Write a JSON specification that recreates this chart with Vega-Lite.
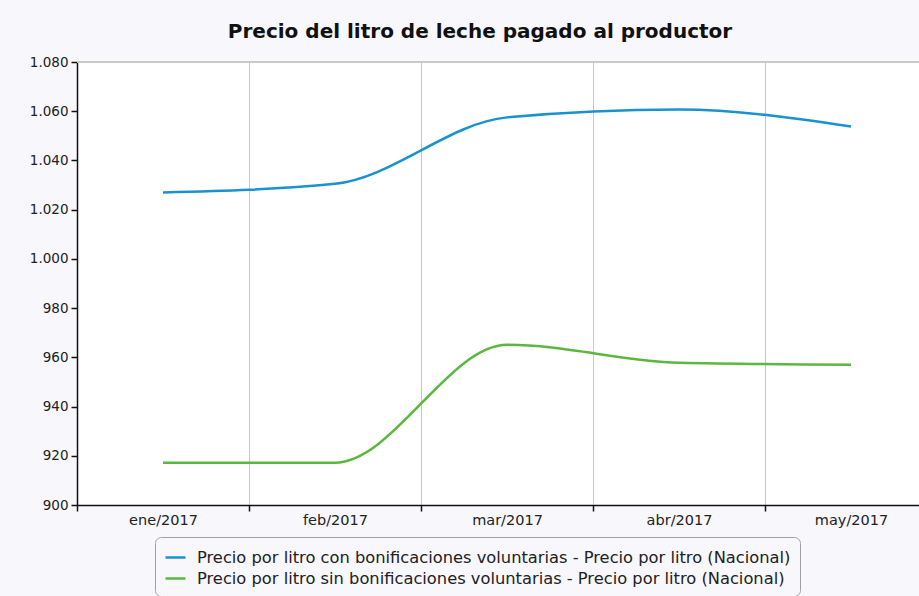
{
  "$schema": "https://vega.github.io/schema/vega-lite/v6.json",
  "autosize": {"type": "none"},
  "width": 842,
  "height": 443,
  "padding": {"left": 77, "top": 62, "right": 0, "bottom": 91},
  "background": "#f7f7fc",
  "view": {"fill": "#ffffff", "stroke": null},
  "title": {
    "text": "Precio del litro de leche pagado al productor",
    "font": "DejaVu Sans",
    "fontSize": 20,
    "fontWeight": "bold",
    "color": "#111111",
    "anchor": "middle",
    "dx": -18,
    "offset": 13
  },
  "data": {
    "values": [
      {"mes": "ene/2017", "serie": "Precio por litro con bonificaciones voluntarias - Precio por litro (Nacional)", "precio": 1027},
      {"mes": "feb/2017", "serie": "Precio por litro con bonificaciones voluntarias - Precio por litro (Nacional)", "precio": 1030.5},
      {"mes": "mar/2017", "serie": "Precio por litro con bonificaciones voluntarias - Precio por litro (Nacional)", "precio": 1057.5},
      {"mes": "abr/2017", "serie": "Precio por litro con bonificaciones voluntarias - Precio por litro (Nacional)", "precio": 1060.7},
      {"mes": "may/2017", "serie": "Precio por litro con bonificaciones voluntarias - Precio por litro (Nacional)", "precio": 1053.8},
      {"mes": "ene/2017", "serie": "Precio por litro sin bonificaciones voluntarias - Precio por litro (Nacional)", "precio": 917.2},
      {"mes": "feb/2017", "serie": "Precio por litro sin bonificaciones voluntarias - Precio por litro (Nacional)", "precio": 917.2},
      {"mes": "mar/2017", "serie": "Precio por litro sin bonificaciones voluntarias - Precio por litro (Nacional)", "precio": 965.1},
      {"mes": "abr/2017", "serie": "Precio por litro sin bonificaciones voluntarias - Precio por litro (Nacional)", "precio": 957.8},
      {"mes": "may/2017", "serie": "Precio por litro sin bonificaciones voluntarias - Precio por litro (Nacional)", "precio": 957}
    ]
  },
  "layer": [
    {
      "mark": {"type": "rule", "color": "#c8c8c8", "strokeWidth": 1},
      "encoding": {"y": {"datum": 1080, "type": "quantitative", "scale": {"domain": [900, 1080], "nice": false}}}
    },
    {
      "mark": {"type": "line", "interpolate": "monotone", "strokeWidth": 2.5},
      "encoding": {
        "x": {
          "field": "mes",
          "type": "nominal",
          "sort": ["ene/2017", "feb/2017", "mar/2017", "abr/2017", "may/2017"],
          "scale": {"type": "band", "range": [0, 860], "paddingInner": 0, "paddingOuter": 0},
          "axis": {
            "title": null,
            "labelAngle": 0,
            "labelFont": "DejaVu Sans",
            "labelFontSize": 14.5,
            "labelColor": "#222222",
            "labelPadding": 2,
            "domainColor": "#111111",
            "domainWidth": 1.5,
            "tickColor": "#111111",
            "tickSize": 6,
            "tickWidth": 1.5,
            "tickBand": "extent",
            "grid": true,
            "gridColor": "#c8c8c8",
            "gridWidth": 1
          }
        },
        "y": {
          "field": "precio",
          "type": "quantitative",
          "scale": {"domain": [900, 1080], "nice": false, "zero": false},
          "axis": {
            "title": null,
            "values": [900, 920, 940, 960, 980, 1000, 1020, 1040, 1060, 1080],
            "labelExpr": "replace(format(datum.value, ','), ',', '.')",
            "labelFont": "DejaVu Sans",
            "labelFontSize": 13.5,
            "labelColor": "#222222",
            "labelPadding": 3,
            "grid": false,
            "domainColor": "#111111",
            "domainWidth": 1.5,
            "tickColor": "#111111",
            "tickSize": 6,
            "tickWidth": 1.5
          }
        },
        "color": {
          "field": "serie",
          "type": "nominal",
          "scale": {"range": ["#1a92d0", "#5bb83e"]},
          "legend": {
            "title": null,
            "orient": "none",
            "legendX": 78,
            "legendY": 475,
            "direction": "vertical",
            "padding": 9,
            "strokeColor": "#a0a0a0",
            "cornerRadius": 6,
            "fillColor": "#f7f7fc",
            "symbolType": "stroke",
            "symbolSize": 400,
            "symbolStrokeWidth": 2.5,
            "labelFont": "DejaVu Sans",
            "labelFontSize": 16.3,
            "labelColor": "#222222",
            "labelLimit": 1000,
            "rowPadding": 1,
            "labelOffset": 10
          }
        }
      }
    }
  ]
}
